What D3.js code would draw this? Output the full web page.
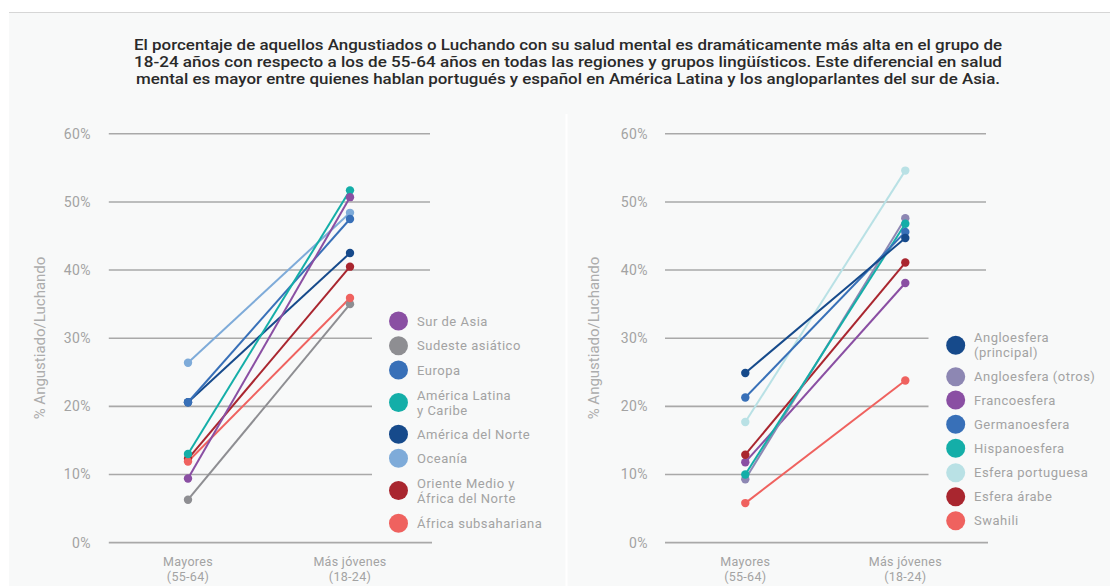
<!DOCTYPE html>
<html>
<head>
<meta charset="utf-8">
<script src="https://cdn.jsdelivr.net/npm/d3@7"></script>
<style>
  html, body { margin: 0; padding: 0; background: #ffffff; }
  svg { display: block; font-family: Roboto, "Noto Sans", sans-serif; }
</style>
</head>
<body>
<svg id="chart" width="1110" height="586"></svg>
<script>
// ---- data ----
const titleLines = [
  "El porcentaje de aquellos Angustiados o Luchando con su salud mental es dramáticamente más alta en el grupo de",
  "18-24 años con respecto a los de 55-64 años en todas las regiones y grupos lingüísticos. Este diferencial en salud",
  "mental es mayor entre quienes hablan portugués y español en América Latina y los angloparlantes del sur de Asia."
];
const ageGroups = [["Mayores", "(55-64)"], ["Más jóvenes", "(18-24)"]];
const yTicks = [0, 10, 20, 30, 40, 50, 60];
const yAxisTitle = "% Angustiado/Luchando";

// regions
const regionNames = [["Sur de Asia"], ["Sudeste asiático"], ["Europa"], ["América Latina", "y Caribe"],
  ["América del Norte"], ["Oceanía"], ["Oriente Medio y", "África del Norte"], ["África subsahariana"]];
const regionOlder   = [9.4, 6.3, 20.6, 13.0, 20.6, 26.4, 12.3, 11.9];
const regionYounger = [50.7, 35.0, 47.5, 51.7, 42.5, 48.4, 40.5, 35.9];
const regionColors  = ["#8a4fa3", "#8e8e92", "#3870b8", "#14aea8", "#164a8b", "#7eabd9", "#a9262f", "#ef625f"];

// language groups
const langNames = [["Angloesfera", "(principal)"], ["Angloesfera (otros)"], ["Francoesfera"], ["Germanoesfera"],
  ["Hispanoesfera"], ["Esfera portuguesa"], ["Esfera árabe"], ["Swahili"]];
const langOlder   = [24.9, 9.3, 11.8, 21.3, 10.0, 17.7, 12.9, 5.8];
const langYounger = [44.7, 47.6, 38.1, 45.6, 46.8, 54.6, 41.1, 23.8];
const langColors  = ["#164a8b", "#8d87b3", "#8a4fa3", "#3870b8", "#14aea8", "#b9e1e5", "#a9262f", "#ef625f"];

// ---- layout ----
const svg = d3.select("#chart");
const W = 1110, H = 586;

// panel background with a thin top rule
svg.append("rect").attr("x", 9).attr("y", 12).attr("width", W - 9).attr("height", H - 12).attr("fill", "#f8f9f9");
svg.append("line").attr("x1", 9).attr("x2", W).attr("y1", 12.5).attr("y2", 12.5)
  .attr("stroke", "#d6d6d6").attr("stroke-width", 1.2);
// faint divider between the two panels
svg.append("line").attr("x1", 566.5).attr("x2", 566.5).attr("y1", 114).attr("y2", H)
  .attr("stroke", "#ffffff").attr("stroke-width", 2);

// title
const titleWidths = [868, 868, 864];
svg.append("g").selectAll("text").data(titleLines).join("text")
  .attr("x", (d, i) => 568 - titleWidths[i] / 2)
  .attr("y", (d, i) => 50 + i * 17)
  .attr("textLength", (d, i) => titleWidths[i])
  .attr("lengthAdjust", "spacingAndGlyphs")
  .attr("font-size", 14)
  .attr("font-weight", 500)
  .attr("fill", "#2a2a2a")
  .text(d => d);

const y = d3.scaleLinear().domain([0, 60]).range([542.6, 133.8]);

function panel(opt) {
  const g = svg.append("g");
  const x = d3.scalePoint().domain([0, 1]).range([opt.x0, opt.x1]);

  // gridlines: upper ones run full width, lower ones stop short of the legend
  g.append("g").selectAll("line").data(yTicks).join("line")
    .attr("x1", opt.gridStart)
    .attr("x2", d => d === 0 ? opt.gridEnd + 2 : (d >= 40 ? opt.gridEnd : opt.gridShort))
    .attr("y1", d => y(d)).attr("y2", d => y(d))
    .attr("stroke", "#a9a9a9").attr("stroke-width", 1.6);

  // tick labels
  const yAxis = d3.axisLeft(y).tickValues(yTicks).tickFormat(d => d + "%").tickSize(0).tickPadding(0);
  const ax = g.append("g").attr("transform", `translate(${opt.tickRight},0)`).call(yAxis);
  ax.select(".domain").remove();
  ax.selectAll("text").attr("font-size", 14).attr("fill", "#a3a3a3")
    .attr("font-family", "Roboto, sans-serif").attr("letter-spacing", 0.4);

  // axis title
  g.append("text")
    .attr("transform", `translate(${opt.titleX},338) rotate(-90)`)
    .attr("text-anchor", "middle").attr("dominant-baseline", "central")
    .attr("font-size", 15).attr("fill", "#acacac")
    .text(yAxisTitle);

  // category labels
  ageGroups.forEach((lab, i) => {
    g.append("text").attr("x", x(i)).attr("y", 566).attr("text-anchor", "middle")
      .attr("font-size", 12.5).attr("fill", "#a3a3a3").attr("letter-spacing", 0.3).text(lab[0]);
    g.append("text").attr("x", x(i)).attr("y", 581).attr("text-anchor", "middle")
      .attr("font-size", 12.5).attr("fill", "#a3a3a3").attr("letter-spacing", 0.3).text(lab[1]);
  });

  // slopes
  const rows = opt.names.map((n, i) => ({ n, a: opt.older[i], b: opt.younger[i], c: opt.colors[i] }));
  const order = opt.drawOrder.map(i => rows[i]);
  const sl = g.append("g");
  sl.selectAll("line").data(order).join("line")
    .attr("x1", x(0)).attr("x2", x(1))
    .attr("y1", d => y(d.a)).attr("y2", d => y(d.b))
    .attr("stroke", d => d.c).attr("stroke-width", 2);
  sl.selectAll("circle.a").data(order).join("circle").attr("class", "a")
    .attr("cx", x(0)).attr("cy", d => y(d.a)).attr("r", 4.2).attr("fill", d => d.c);
  sl.selectAll("circle.b").data(order).join("circle").attr("class", "b")
    .attr("cx", x(1)).attr("cy", d => y(d.b)).attr("r", 4.2).attr("fill", d => d.c);

  // legend
  const lg = g.append("g");
  rows.forEach((d, i) => {
    const cy = opt.legendY[i];
    lg.append("circle").attr("cx", opt.legendX).attr("cy", cy).attr("r", 9.5).attr("fill", d.c);
    const lines = d.n;
    lines.forEach((t, k) => {
      const off = lines.length === 1 ? 0 : (k === 0 ? -7.5 : 7.5);
      lg.append("text").attr("x", opt.legendTextX).attr("y", cy + off)
        .attr("dominant-baseline", "central")
        .attr("font-size", 13).attr("letter-spacing", 0.5).attr("fill", "#a3a3a3").text(t);
    });
  });
}

panel({
  x0: 188, x1: 350,
  gridStart: 108.8, gridEnd: 430, gridShort: 372,
  tickRight: 91, titleX: 40,
  names: regionNames, older: regionOlder, younger: regionYounger, colors: regionColors,
  drawOrder: [5, 1, 6, 7, 4, 2, 3, 0],
  legendX: 398.5, legendTextX: 417,
  legendY: [321, 345.7, 370, 402.5, 434.3, 458.3, 490.5, 523.3]
});

panel({
  x0: 745.3, x1: 905.3,
  gridStart: 665, gridEnd: 986, gridShort: 928.5,
  tickRight: 648, titleX: 594,
  names: langNames, older: langOlder, younger: langYounger, colors: langColors,
  drawOrder: [5, 7, 2, 6, 1, 4, 3, 0],
  legendX: 955.7, legendTextX: 974,
  legendY: [345.3, 376.7, 400, 424.3, 448.3, 472.7, 496.7, 520.7]
});
</script>
</body>
</html>
